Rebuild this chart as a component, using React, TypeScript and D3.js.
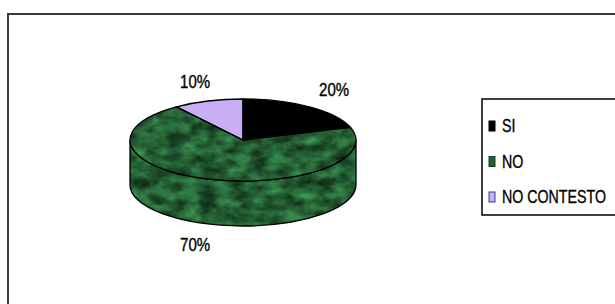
import React from 'react';
import * as d3 from 'd3';

const categories = ['SI', 'NO', 'NO CONTESTO'];
const values = [20, 70, 10];
const labels = ['20%', '70%', '10%'];
const colors = ['#000000', '#245e36', '#c9aef5'];
const swatchStroke = ['#000000', '#1c3a28', '#3a3a8a'];

const W = 615;
const H = 304;
const cx = 243;
const cy = 140;
const rx = 113;
const ry = 41;
const depth = 45;
const narrow = 0.79; // horizontal squeeze to mimic a narrow font

const pt = (a: number, dy = 0): [number, number] => [cx + rx * Math.sin(a), cy - ry * Math.cos(a) + dy];

const App: React.FC = () => {
  const arcs = d3.pie<number>().sort(null)(values);

  const topPath = (a0: number, a1: number) => {
    const p0 = pt(a0);
    const p1 = pt(a1);
    const large = a1 - a0 > Math.PI ? 1 : 0;
    return `M${cx},${cy}L${p0[0]},${p0[1]}A${rx},${ry} 0 ${large} 1 ${p1[0]},${p1[1]}Z`;
  };

  const sidePath = (a0: number, a1: number) => {
    const s = Math.max(a0, Math.PI / 2);
    const e = Math.min(a1, (3 * Math.PI) / 2);
    if (s >= e) return null;
    const p0 = pt(s), p1 = pt(e), q1 = pt(e, depth), q0 = pt(s, depth);
    return `M${p0[0]},${p0[1]}A${rx},${ry} 0 0 1 ${p1[0]},${p1[1]}L${q1[0]},${q1[1]}A${rx},${ry} 0 0 0 ${q0[0]},${q0[1]}Z`;
  };

  const legendY = d3.scalePoint<string>().domain(categories).range([126, 197]);

  return (
    <svg width={W} height={H} style={{ position: 'absolute', left: 0, top: 0, background: '#fff' }}
      fontFamily="'Liberation Sans', Arial, sans-serif">
      <defs>
        {/* mottled green texture like the old office chart fill */}
        <filter id="marble" x="0" y="0" width="100%" height="100%" colorInterpolationFilters="sRGB">
          <feTurbulence type="fractalNoise" baseFrequency="0.06 0.09" numOctaves={3} seed={11} result="noise" />
          <feColorMatrix in="noise" type="matrix"
            values="0.24 0 0 0 0.02  0.6 0 0 0 0.07  0.34 0 0 0 0.03  0 0 0 0 1" result="tint" />
          <feComposite in="tint" in2="SourceGraphic" operator="in" />
        </filter>
      </defs>

      {/* frame */}
      <rect x={8} y={14} width={640} height={320} fill="none" stroke="#3a3a3a" strokeWidth={2} />

      {/* sides */}
      <g>
        {arcs.map((d, i) => {
          const p = sidePath(d.startAngle, d.endAngle);
          return p ? <path key={'sf' + i} d={p} fill={colors[i]} filter={i === 1 ? 'url(#marble)' : undefined} /> : null;
        })}
        {arcs.map((d, i) => {
          const p = sidePath(d.startAngle, d.endAngle);
          return p ? <path key={'so' + i} d={p} fill="none" stroke="#000" strokeWidth={1.3} /> : null;
        })}
      </g>

      {/* top */}
      <g>
        {arcs.map((d, i) => (
          <path key={'tf' + i} d={topPath(d.startAngle, d.endAngle)} fill={colors[i]}
            filter={i === 1 ? 'url(#marble)' : undefined} />
        ))}
        {arcs.map((d, i) => (
          <path key={'to' + i} d={topPath(d.startAngle, d.endAngle)} fill="none" stroke="#000" strokeWidth={1.3} />
        ))}
      </g>

      {/* value labels */}
      {arcs.map((d, i) => {
        const mid = (d.startAngle + d.endAngle) / 2;
        const x = cx + 155 * Math.sin(mid);
        const y = cy - 62 * Math.cos(mid) + (Math.cos(mid) < 0 ? depth : 0);
        return (
          <text key={'l' + i} transform={`translate(${x},${y}) scale(${narrow},1)`} dy="0.35em"
            textAnchor="middle" fontSize={19} fill="#000" stroke="#000" strokeWidth={0.4}>
            {labels[i]}
          </text>
        );
      })}

      {/* legend */}
      <rect x={482} y={99} width={160} height={116} fill="#fff" stroke="#000" strokeWidth={1.5} />
      {categories.map((c, i) => {
        const y = legendY(c)!;
        return (
          <g key={'lg' + i}>
            <rect x={489} y={y - 5} width={6} height={10} fill={colors[i]} stroke={swatchStroke[i]} strokeWidth={1} />
            <text transform={`translate(502,${y}) scale(${narrow},1)`} dy="0.35em" fontSize={18}
              stroke="#000" strokeWidth={0.35}>
              {c}
            </text>
          </g>
        );
      })}
    </svg>
  );
};

export default App;
